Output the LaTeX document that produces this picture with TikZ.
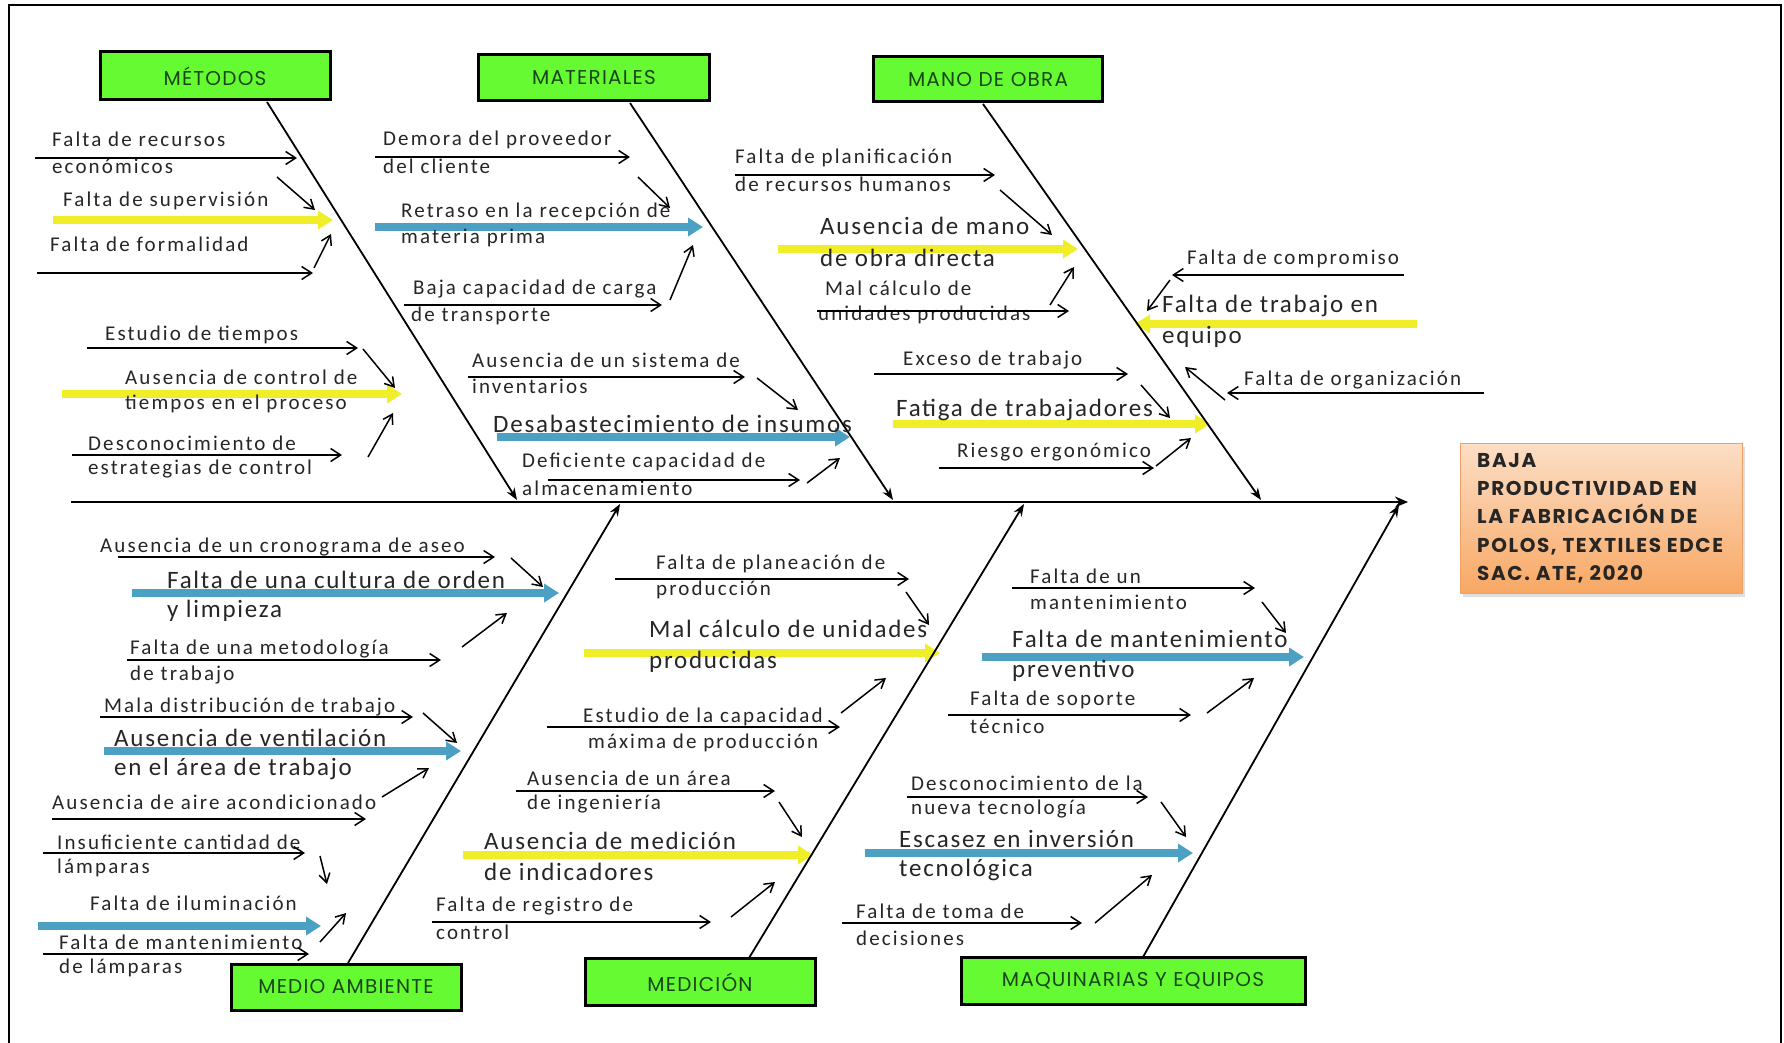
\documentclass[tikz,border=0pt]{standalone}
\usepackage{fontspec}
\setmainfont{Carlito}
\newfontfamily\smallf{Carlito}[LetterSpace=10]
\newfontfamily\largef{Carlito}[LetterSpace=7]
\newfontfamily\boxf{Poppins}[LetterSpace=6]
\newfontfamily\titlef{Poppins}[LetterSpace=8]
\usetikzlibrary{arrows.meta,shadows}
\pgfdeclarelayer{bg}
\pgfsetlayers{bg,main}
\definecolor{boxgreen}{RGB}{102,250,51}
\definecolor{boxtext}{RGB}{25,70,25}
\definecolor{ylw}{RGB}{240,238,40}
\definecolor{blu}{RGB}{75,160,195}
\definecolor{peachtop}{RGB}{252,222,198}
\definecolor{peachbot}{RGB}{248,168,100}
\definecolor{peachline}{RGB}{240,160,100}
\tikzset{
  sm/.style={font=\smallf\fontsize{21}{25}\selectfont, inner sep=0pt, anchor=west, text=black!85},
  lg/.style={font=\largef\fontsize{25}{29}\selectfont, inner sep=0pt, anchor=west, text=black!85},
  blk/.style={line width=1.5pt, -{Straight Barb[length=10pt,width=13pt]}},
  dg/.style={line width=1.5pt, -{Straight Barb[length=9pt,width=11pt]}},
  yar/.style={line width=7.5pt, draw=ylw, -{Triangle[length=15pt,width=18pt]}},
  bar/.style={line width=7.5pt, draw=blu, -{Triangle[length=15pt,width=18pt]}},
  cat/.style={draw=black, line width=3pt, fill=boxgreen, inner sep=0pt,
    font=\boxf\fontsize{20}{24}\selectfont, text=boxtext},
  bone/.style={line width=1.8pt, -{Stealth[length=12pt,width=9pt]}},
}
\newcommand\carrow[3]{\begin{pgfonlayer}{bg}\draw[#1] #2 -- #3;\end{pgfonlayer}}
\begin{document}
\begin{tikzpicture}[x=1pt,y=-1pt]
\begin{pgfonlayer}{bg}
\fill[white] (0,0) rectangle (1784,1043);
\end{pgfonlayer}
\useasboundingbox (0,0) rectangle (1784,1043);
\draw[line width=2pt] (9,1043) -- (9,5) -- (1781,5) -- (1781,1043);

% category boxes
\node[cat, minimum width=230pt, minimum height=48pt] (met) at (215,76) {MÉTODOS};
\node[cat, minimum width=231pt, minimum height=46pt] (mat) at (594,78) {MATERIALES};
\node[cat, minimum width=229pt, minimum height=45pt] (mob) at (988,79.5) {MANO DE OBRA};
\node[cat, minimum width=230pt, minimum height=46pt] (mam) at (346,987) {MEDIO AMBIENTE};
\node[cat, minimum width=230pt, minimum height=47pt] (med) at (700,982) {MEDICIÓN};
\node[cat, minimum width=344pt, minimum height=47pt] (maq) at (1133,981) {MAQUINARIAS Y EQUIPOS};

% effect box
\node[draw=peachline, line width=1pt, top color=peachtop, bottom color=peachbot,
  minimum width=282pt, minimum height=150pt,
  drop shadow={opacity=0.25, shadow xshift=3pt, shadow yshift=-4pt}] (eff) at (1601,518) {};
\node[font=\titlef\bfseries\fontsize{20}{28.3}\selectfont, align=left, anchor=west,
  inner sep=0pt, text=black!85] (efftext) at (1477,518)
  {BAJA\\PRODUCTIVIDAD EN\\LA FABRICACIÓN DE\\POLOS, TEXTILES EDCE\\SAC. ATE, 2020};

% spine and bones
\coordinate (sp0) at (71,502);
\coordinate (sp1) at (1408,502);
\draw[line width=1.8pt, -{Stealth[length=13pt,width=11pt]}] (sp0) -- (sp1);
\coordinate (b1s) at (267,102); \coordinate (b1e) at (517,500);
\coordinate (b2s) at (630,103); \coordinate (b2e) at (893,500);
\coordinate (b3s) at (983,104); \coordinate (b3e) at (1261,500);
\coordinate (b4s) at (348,963); \coordinate (b4e) at (620,504);
\coordinate (b5s) at (749,958); \coordinate (b5e) at (1024,504);
\coordinate (b6s) at (1143,957); \coordinate (b6e) at (1399,505);
\draw[bone] (b1s) -- (b1e);
\draw[bone] (b2s) -- (b2e);
\draw[bone] (b3s) -- (b3e);
\draw[bone] (b4s) -- (b4e);
\draw[bone] (b5s) -- (b5e);
\draw[bone] (b6s) -- (b6e);

% ---- METODOS
\node[sm] (m1a) at (52,139) {Falta de recursos};
\node[sm] (m1b) at (52,166) {económicos};
\draw[blk] (35,158) -- (297,158);
\draw[dg] (277,177) -- (315,210);
\node[sm] (m2) at (63,201) {Falta de supervisión};
\carrow{yar}{(53,220)}{(333,220)}
\node[sm] (m3) at (50,244) {Falta de formalidad};
\draw[blk] (37,273) -- (313,273);
\draw[dg] (314,268) -- (331,234);
\node[sm] (m4) at (105,335) {Estudio de tiempos};
\draw[blk] (87,348) -- (358,348);
\draw[dg] (363,349) -- (395,388);
\node[sm] (m5a) at (125,377) {Ausencia de control de};
\node[sm] (m5b) at (125,404) {tiempos en el proceso};
\carrow{yar}{(62,394)}{(402,394)}
\node[sm] (m6a) at (88,443) {Desconocimiento de};
\node[sm] (m6b) at (88,469) {estrategias de control};
\draw[blk] (72,455) -- (342,455);
\draw[dg] (368,457) -- (393,413);

% ---- MATERIALES
\node[sm] (a1a) at (383,140) {Demora del proveedor};
\node[sm] (a1b) at (383,166) {del cliente};
\draw[blk] (375,157) -- (630,157);
\draw[dg] (638,177) -- (670,208);
\node[sm] (a2a) at (401,212) {Retraso en la recepción de};
\node[sm] (a2b) at (401,238) {materia prima};
\carrow{bar}{(375,227)}{(703,227)}
\node[sm] (a3a) at (413,289) {Baja capacidad de carga};
\node[sm] (a3b) at (411,316) {de transporte};
\draw[blk] (404,305) -- (662,305);
\draw[dg] (670,300) -- (693,245);
\node[sm] (a4a) at (472,360) {Ausencia de un sistema de};
\node[sm] (a4b) at (472,386) {inventarios};
\draw[blk] (468,377) -- (745,377);
\draw[dg] (757,378) -- (798,410);
\node[lg] (a5) at (493,424) {Desabastecimiento de insumos};
\carrow{bar}{(497,437)}{(850,437)}
\node[sm] (a6a) at (522,462) {Deficiente capacidad de};
\node[sm] (a6b) at (522,488) {almacenamiento};
\draw[blk] (548,480) -- (800,480);
\draw[dg] (807,483) -- (840,458);

% ---- MANO DE OBRA
\node[sm] (o1a) at (735,158) {Falta de planificación};
\node[sm] (o1b) at (735,184) {de recursos humanos};
\draw[blk] (735,175) -- (995,175);
\draw[dg] (1000,190) -- (1052,235);
\node[lg] (o2a) at (820,226) {Ausencia de mano};
\node[lg] (o2b) at (820,258) {de obra directa};
\carrow{yar}{(778,249)}{(1078,249)}
\node[sm] (o3a) at (825,288) {Mal cálculo de};
\node[sm] (o3b) at (818,315) {unidades producidas};
\draw[blk] (817,311) -- (1069,311);
\draw[dg] (1050,305) -- (1074,267);
\node[sm] (o4) at (903,360) {Exceso de trabajo};
\draw[blk] (874,374) -- (1128,374);
\draw[dg] (1141,385) -- (1170,418);
\node[lg] (o5) at (896,410) {Fatiga de trabajadores};
\carrow{yar}{(893,424)}{(1210,424)}
\node[sm] (o6) at (957,452) {Riesgo ergonómico};
\draw[blk] (939,468) -- (1154,468);
\draw[dg] (1156,466) -- (1191,438);
\node[sm] (o7) at (1187,259) {Falta de compromiso};
\draw[blk] (1404,275) -- (1172,275);
\draw[dg] (1170,280) -- (1147,311);
\node[lg] (o8a) at (1162,306) {Falta de trabajo en};
\node[lg] (o8b) at (1162,337) {equipo};
\carrow{yar}{(1417,324)}{(1135,324)}
\node[sm] (o9) at (1244,380) {Falta de organización};
\draw[blk] (1484,393) -- (1227,393);
\draw[dg] (1225,400) -- (1185,367);

% ---- MEDIO AMBIENTE
\node[sm] (e1) at (100,547) {Ausencia de un cronograma de aseo};
\draw[blk] (118,557) -- (495,557);
\draw[dg] (511,558) -- (543,587);
\node[lg] (e2a) at (167,580) {Falta de una cultura de orden};
\node[lg] (e2b) at (167,611) {y limpieza};
\carrow{bar}{(132,593)}{(559,593)}
\node[sm] (e3a) at (130,649) {Falta de una metodología};
\node[sm] (e3b) at (130,675) {de trabajo};
\draw[blk] (127,660) -- (441,660);
\draw[dg] (462,647) -- (507,613);
\node[sm] (e4) at (104,707) {Mala distribución de trabajo};
\draw[blk] (100,717) -- (413,717);
\draw[dg] (423,713) -- (457,743);
\node[lg] (e5a) at (114,738) {Ausencia de ventilación};
\node[lg] (e5b) at (114,769) {en el área de trabajo};
\carrow{bar}{(104,751)}{(461,751)}
\node[sm] (e6) at (52,802) {Ausencia de aire acondicionado};
\draw[blk] (52,819) -- (366,819);
\draw[dg] (382,797) -- (429,768);
\node[sm] (e7a) at (57,842) {Insuficiente cantidad de};
\node[sm] (e7b) at (57,868) {lámparas};
\draw[blk] (43,853) -- (305,853);
\draw[dg] (320,856) -- (327,884);
\node[sm] (e8) at (90,903) {Falta de iluminación};
\carrow{bar}{(38,926)}{(321,926)}
\node[sm] (e9a) at (59,942) {Falta de mantenimiento};
\node[sm] (e9b) at (59,968) {de lámparas};
\draw[blk] (43,954) -- (309,954);
\draw[dg] (320,942) -- (346,913);

% ---- MEDICION
\node[sm] (d1a) at (656,564) {Falta de planeación de};
\node[sm] (d1b) at (656,590) {producción};
\draw[blk] (615,579) -- (909,579);
\draw[dg] (906,592) -- (929,625);
\node[lg] (d2a) at (649,629) {Mal cálculo de unidades};
\node[lg] (d2b) at (649,662) {producidas};
\carrow{yar}{(584,653)}{(940,653)}
\node[sm] (d3a) at (583,717) {Estudio de la capacidad};
\node[sm] (d3b) at (588,743) {máxima de producción};
\draw[blk] (547,727) -- (840,727);
\draw[dg] (841,713) -- (886,678);
\node[sm] (d4a) at (527,778) {Ausencia de un área};
\node[sm] (d4b) at (527,804) {de ingeniería};
\draw[blk] (516,791) -- (775,791);
\draw[dg] (779,802) -- (802,837);
\node[lg] (d5a) at (484,841) {Ausencia de medición};
\node[lg] (d5b) at (484,872) {de indicadores};
\carrow{yar}{(463,855)}{(813,855)}
\node[sm] (d6a) at (436,906) {Falta de registro de};
\node[sm] (d6b) at (436,932) {control};
\draw[blk] (432,922) -- (711,922);
\draw[dg] (731,917) -- (775,882);

% ---- MAQUINARIAS
\node[sm] (q1a) at (1030,576) {Falta de un};
\node[sm] (q1b) at (1030,602) {mantenimiento};
\draw[blk] (1012,588) -- (1255,588);
\draw[dg] (1262,602) -- (1286,633);
\node[lg] (q2a) at (1012,639) {Falta de mantenimiento};
\node[lg] (q2b) at (1012,671) {preventivo};
\carrow{bar}{(982,657)}{(1304,657)}
\node[sm] (q3a) at (970,700) {Falta de soporte};
\node[sm] (q3b) at (970,726) {técnico};
\draw[blk] (948,715) -- (1191,715);
\draw[dg] (1207,713) -- (1254,678);
\node[sm] (q4a) at (911,783) {Desconocimiento de la};
\node[sm] (q4b) at (911,809) {nueva tecnología};
\draw[blk] (907,797) -- (1148,797);
\draw[dg] (1161,802) -- (1186,837);
\node[lg] (q5a) at (899,839) {Escasez en inversión};
\node[lg] (q5b) at (899,870) {tecnológica};
\carrow{bar}{(865,853)}{(1193,853)}
\node[sm] (q6a) at (856,911) {Falta de toma de};
\node[sm] (q6b) at (856,938) {decisiones};
\draw[blk] (842,923) -- (1082,923);
\draw[dg] (1095,923) -- (1152,875);
\end{tikzpicture}
\end{document}
